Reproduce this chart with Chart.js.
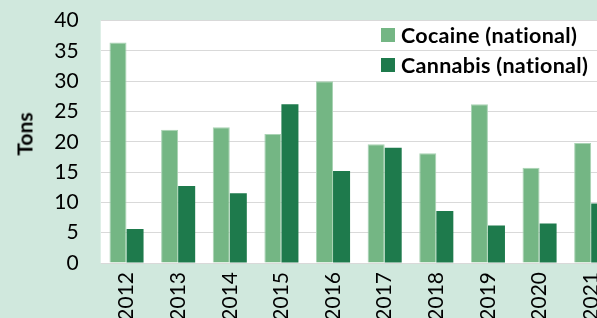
<!DOCTYPE html>
<html>
<head>
<meta charset="utf-8">
<script src="https://cdn.jsdelivr.net/npm/chart.js@4"></script>
<style>
  html, body { margin:0; padding:0; width:597px; height:318px; overflow:hidden; background:#d0e8dd; }
  #wrap { position:absolute; left:0; top:0; width:617px; height:318px; }
  #yt { position:absolute; left:24px; top:134px; transform:translate(-50%,-50%) rotate(-90deg); font:bold 21px Lato, sans-serif; color:#000; white-space:nowrap; }
  .lg { position:absolute; left:381px; font:bold 21.5px Lato, sans-serif; color:#000; white-space:nowrap; display:flex; align-items:center; letter-spacing:0.3px; }
  .lg span.sw { display:inline-block; width:14px; height:14px; margin-right:6px; }
</style>
</head>
<body>
<div id="wrap"><canvas id="c" width="617" height="318"></canvas></div>
<div id="yt">Tons</div>
<div class="lg" style="top:22px"><span class="sw" style="background:#74b684"></span>Cocaine (national)</div>
<div class="lg" style="top:52px"><span class="sw" style="background:#1e7a4c"></span>Cannabis (national)</div>
<script>
const years = ['2012','2013','2014','2015','2016','2017','2018','2019','2020','2021'];
const cocaine = [36.4, 22.0, 22.4, 21.3, 30.0, 19.6, 18.1, 26.2, 15.7, 19.8];
const cannabis = [5.6, 12.7, 11.5, 26.2, 15.2, 19.0, 8.6, 6.2, 6.5, 9.8];
const yTicks = [0,5,10,15,20,25,30,35,40];

const plotBg = {
  id:'plotBg',
  beforeDraw(chart){
    const {ctx, chartArea:a} = chart;
    ctx.save(); ctx.fillStyle='#ffffff';
    ctx.fillRect(a.left, a.top, a.right-a.left, a.bottom-a.top);
    ctx.restore();
  }
};

new Chart(document.getElementById('c'), {
  type:'bar',
  data:{
    labels: years,
    datasets:[
      {label:'Cocaine (national)', data:cocaine, backgroundColor:'#74b684', borderColor:'#a9d3b4', borderWidth:1, barPercentage:1, categoryPercentage:0.66},
      {label:'Cannabis (national)', data:cannabis, backgroundColor:'#1e7a4c', borderColor:'#1e7a4c', borderWidth:0, barPercentage:1, categoryPercentage:0.66}
    ]
  },
  options:{
    responsive:false, animation:false,
    layout:{padding:{top:20.6, left:0, right:0, bottom:0}},
    plugins:{legend:{display:false}, tooltip:{enabled:false}},
    scales:{
      x:{
        grid:{display:false, drawTicks:false}, border:{display:false},
        ticks:{maxRotation:90, minRotation:90, padding:9, color:'#000', font:{family:'Lato', size:21}},
        afterFit(s){ s.height = 55; s.paddingLeft = 0; s.paddingRight = 0; }
      },
      y:{
        min:0, max:40,
        afterBuildTicks(s){ s.ticks = yTicks.map(v=>({value:v})); },
        grid:{color:'#d9d9d9', lineWidth:1, drawTicks:false}, border:{display:false},
        ticks:{padding:22, color:'#000', font:{family:'Lato', size:21}},
        afterFit(s){ s.width = 100.7; s.paddingTop = 0; s.paddingBottom = 0; }
      }
    }
  },
  plugins:[plotBg]
});
</script>
</body>
</html>
